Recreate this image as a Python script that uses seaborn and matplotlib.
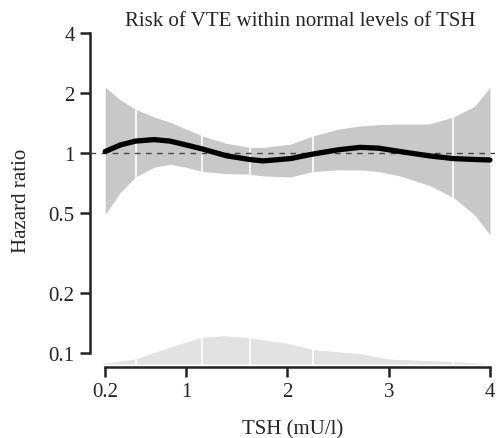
import numpy as np
import matplotlib
matplotlib.use("Agg")
import matplotlib.pyplot as plt
import seaborn as sns

# hazard ratio curve
tsh = [0.2, 0.35, 0.5, 0.68, 0.84, 1.0, 1.16, 1.4, 1.63, 1.76, 2.03, 2.25, 2.5, 2.72, 2.9, 3.11, 3.4, 3.64, 3.85, 4.0]
hr = [1.02, 1.10, 1.15, 1.17, 1.15, 1.10, 1.05, 0.97, 0.93, 0.915, 0.94, 0.99, 1.04, 1.07, 1.06, 1.02, 0.97, 0.94, 0.93, 0.925]
ci_hi = [2.14, 1.85, 1.66, 1.52, 1.43, 1.32, 1.22, 1.12, 1.07, 1.07, 1.11, 1.22, 1.32, 1.37, 1.39, 1.40, 1.40, 1.52, 1.72, 2.14]
ci_lo = [0.494, 0.637, 0.76, 0.85, 0.88, 0.85, 0.81, 0.79, 0.785, 0.77, 0.76, 0.81, 0.825, 0.825, 0.81, 0.77, 0.69, 0.60, 0.49, 0.39]

# TSH distribution at the bottom (top edge, on the hazard ratio scale)
dens_x = [0.15, 0.5, 0.84, 1.16, 1.38, 1.63, 2.03, 2.25, 2.72, 3.0, 3.64, 4.0]
dens_top = [0.088, 0.0933, 0.107, 0.120, 0.122, 0.119, 0.111, 0.104, 0.099, 0.0933, 0.0904, 0.088]
dens_base = 0.088

# white separators (quantiles)
cuts = [0.5, 1.16, 1.63, 2.25, 3.64]

xticks = [0.2, 1, 2, 3, 4]
xticklabels = ["0.2", "1", "2", "3", "4"]
yticks = [0.1, 0.2, 0.5, 1, 2, 4]
yticklabels = ["0.1", "0.2", "0.5", "1", "2", "4"]

sns.set_style("ticks")
plt.rcParams["font.family"] = ["Liberation Serif", "DejaVu Serif"]

fig = plt.figure(figsize=(4.98, 4.39), dpi=100)
ax = fig.add_axes([90 / 498, 1 - 368 / 439, 405 / 498, 334 / 439])

ax.fill_between(tsh, ci_lo, ci_hi, color="#c8c8c8", lw=0, zorder=1)
ax.fill_between(dens_x, dens_base, dens_top, color="#e2e2e2", lw=0, zorder=1)
for c in cuts:
    ax.axvline(c, color="white", lw=1.2, zorder=2)
ax.axhline(1, color="#444444", lw=1.0, ls=(0, (4, 4)), zorder=3)
sns.lineplot(x=tsh, y=hr, ax=ax, color="black", lw=3.8, zorder=4)

ax.set_yscale("log")
ax.set_xlim(0.05, 4.05)
ax.set_ylim(0.085, 4.0)
ax.set_xticks(xticks)
ax.set_xticklabels(xticklabels)
ax.set_yticks(yticks)
ax.set_yticklabels(yticklabels)
ax.minorticks_off()

sns.despine(ax=ax)
ax.spines["left"].set_bounds(0.1, 4)
ax.spines["bottom"].set_bounds(0.2, 4)
for s in ["left", "bottom"]:
    ax.spines[s].set_linewidth(1.8)
    ax.spines[s].set_color("#222222")
ax.tick_params(length=7, width=1.8, color="#222222", labelsize=15, pad=4)

ax.set_xlabel("TSH (mU/l)", fontsize=15, labelpad=13)
ax.set_ylabel("Hazard ratio", fontsize=15, labelpad=13)
ax.set_title("Risk of VTE within normal levels of TSH", fontsize=15, x=0.52, pad=6)

plt.savefig("out.png", dpi=100)
